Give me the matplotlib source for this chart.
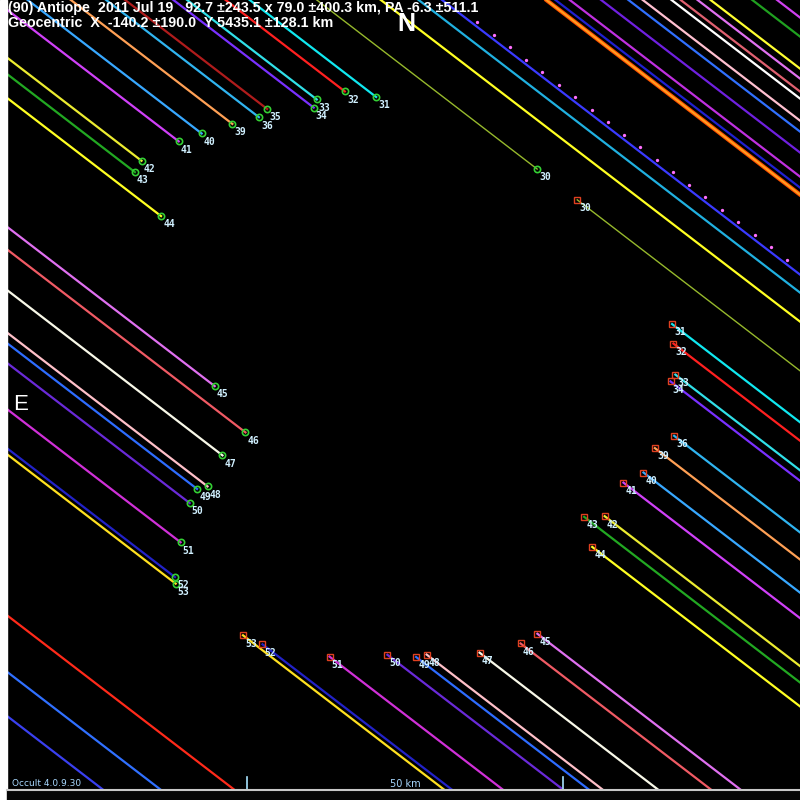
import numpy as np
import matplotlib
matplotlib.use("Agg")
import matplotlib.pyplot as plt
from matplotlib.patches import Rectangle

# ---------------- data (km in the sky plane, centre of the view = 0,0) ----------------
TRACK_ANGLE_DEG = 37.5          # motion direction below horizontal (towards lower right)
KM_PER_PX = 1 / 6.32            # 50 km scale bar

chord_ids = [30, 31, 32, 33, 34, 35, 36, 39, 40, 41, 42, 43, 44,
             45, 46, 47, 48, 49, 50, 51, 52, 53]
chord_offset_km = [42.2, 35.74, 33.42, 29.71, 28.39, 23.74, 21.91, 18.51, 14.35, 11.15,
                   5.13, 3.07, 0.07, -16.11, -18.95, -24.05, -29.39, -30.71, -33.2,
                   -39.0, -43.91, -44.66]
disappear_km = [-5.03, -32.18, -36.65, -39.4, -39.0, -44.72, -44.95, -47.63, -50.57,
                -52.69, -55.49, -55.22, -47.71, -24.6, -16.28, -16.95, -15.84, -16.91,
                -16.47, -13.84, -11.19, -10.47]
reappear_km = [2.97, 26.84, 28.89, 32.12, 32.17, None, 37.86, 36.63, 37.55, 36.01,
               36.88, 34.37, 38.28, 39.76, 38.59, 34.32, 27.85, 26.77, 22.96, 15.87,
               6.27, 2.96]
chord_colors = ['#96b82c', '#10e8f0', '#ff2020', '#30e0e8', '#7a30ff', '#b01c1c',
                '#30b4f0', '#ffa055', '#38a8ff', '#d040f8', '#ecec30', '#22a822',
                '#ffff22', '#e070f0', '#f05a64', '#f8f8e8', '#ffc0c8', '#2e6cff',
                '#6a2ad8', '#d030d8', '#2222c8', '#ffe020']

miss_offset_km = [48.37, 52.01, 54.27, 64.31, 65.19, 66.57, 69.59, 72.22, 73.6, 76.37,
                  77.25, 78.88, 80.13, 84.15, 86.54, -64.88, -71.97, -77.52]
miss_colors = ['#ffff22', '#20b0e0', '#3a3aff', '#ff8c10', '#2020d0', '#c030e0',
               '#7020e0', '#3070ff', '#ffc0d0', '#ffffff', '#e06070', '#e070f0',
               '#ffff30', '#20a020', '#d040f0', '#ff2a1a', '#3070ff', '#3a40f0']

# timing marks along the dotted miss line (offset 54.27 km)
tick_line_offset_km = 54.27
tick_marks_km = [-26.7, -23.4, -20.2, -16.9, -13.7, -10.4, -7.2, -3.9, -0.7, 2.6,
                 5.8, 9.1, 12.3, 15.6, 18.8, 22.1, 25.3, 28.6, 31.8, 35.1]

title1 = "(90) Antiope  2011 Jul 19   92.7 \u00b1243.5 x 79.0 \u00b1400.3 km, PA -6.3 \u00b1511.1"
title2 = "Geocentric  X  -140.2 \u00b1190.0  Y 5435.1 \u00b1128.1 km"
scale_km = 50

# ---------------- drawing ----------------
W = H = 800
fig = plt.figure(figsize=(8, 8), dpi=100, facecolor='black')
ax = fig.add_axes([7 / W, 10 / H, 793 / W, 790 / H])
ax.set_facecolor('black')
ax.set_xlim((7 - 400) * KM_PER_PX, (800 - 400) * KM_PER_PX)
ax.set_ylim((400 - 790) * KM_PER_PX, (400 - 0) * KM_PER_PX)
ax.set_axis_off()

th = np.radians(TRACK_ANGLE_DEG)


def to_xy(s, p):
    s = np.asarray(s, dtype=float)
    return s * np.cos(th) + p * np.sin(th), -s * np.sin(th) + p * np.cos(th)


FAR = 300
# miss lines
for p, c in zip(miss_offset_km, miss_colors):
    x, y = to_xy([-FAR, FAR], p)
    if c == '#ff8c10':
        ax.plot(x, y, color='#ff5000', lw=3.0, solid_capstyle='butt', zorder=2)
        ax.plot(x, y, color='#ffa020', lw=1.4, solid_capstyle='butt', zorder=2)
    else:
        ax.plot(x, y, color=c, lw=1.6, zorder=2)

# timing marks
tx, ty = to_xy(tick_marks_km, tick_line_offset_km + 0.6)
ax.plot(tx, ty, ls='none', marker='o', ms=2.4, color='#ff70ff', mec='none', zorder=3)

lbl_kw = dict(textcoords='offset points', xytext=(1.5, -6), ha='left', va='center',
              fontsize=7, color='#d0f0ff', family='DejaVu Sans Mono',
              fontweight='bold', zorder=6)

for cid, p, sd, sr, c in zip(chord_ids, chord_offset_km, disappear_km, reappear_km, chord_colors):
    lw = 1.0 if cid == 30 else 1.6
    x, y = to_xy([-FAR, sd], p)
    ax.plot(x, y, color=c, lw=lw, zorder=2)
    ax.plot(x[1], y[1], marker='o', ms=4.5, mfc='none', mec='#34d034', mew=1.2, zorder=4)
    ax.annotate(str(cid), (x[1], y[1]), **lbl_kw)
    if sr is not None:
        x, y = to_xy([sr, FAR], p)
        ax.plot(x, y, color=c, lw=lw, zorder=2)
        ax.plot(x[0], y[0], marker='s', ms=4, mfc='none', mec='#e04020', mew=1.0, zorder=4)
        ax.annotate(str(cid), (x[0], y[0]), **lbl_kw)

# frame decorations
fig.patches.append(Rectangle((0, 0), 7 / W, 1, transform=fig.transFigure,
                             color='white', zorder=0))
fig.patches.append(Rectangle((7 / W, 0), 1, 10 / H, transform=fig.transFigure,
                             color='#060606', zorder=0))
fig.add_artist(plt.Line2D([7 / W, 1], [10 / H, 10 / H], color='#c8c8c8', lw=1.5))

# scale bar
x0 = (247 - 400) * KM_PER_PX
x1 = x0 + scale_km
ybot = (400 - 790) * KM_PER_PX
for xx in (x0, x1):
    ax.plot([xx, xx], [ybot, ybot + 13 * KM_PER_PX], color='#a8e4ff', lw=1.2, zorder=5)
ax.text((x0 + x1) / 2, ybot + 6 * KM_PER_PX, f"{scale_km} km", color='#a8d8ff',
        fontsize=7, ha='center', va='center', zorder=6)

fig.text(12 / W, 1 - 783 / H, "Occult 4.0.9.30", color='#a8d8ff', fontsize=6.5,
         ha='left', va='center')

# titles
fig.text(8 / W, 1 - 8 / H, title1, color='white', fontsize=10.3, fontweight='bold',
         family='Liberation Sans', ha='left', va='center')
fig.text(8 / W, 1 - 23 / H, title2, color='white', fontsize=10.3, fontweight='bold',
         family='Liberation Sans', ha='left', va='center')
fig.text(406 / W, 1 - 24 / H, "N", color='white', fontsize=18, fontweight='bold',
         family='Liberation Sans', ha='center', va='center')
fig.text(21 / W, 1 - 405 / H, "E", color='white', fontsize=16,
         family='Liberation Sans', ha='center', va='center')

fig.savefig('out.png', dpi=100, facecolor='black')
